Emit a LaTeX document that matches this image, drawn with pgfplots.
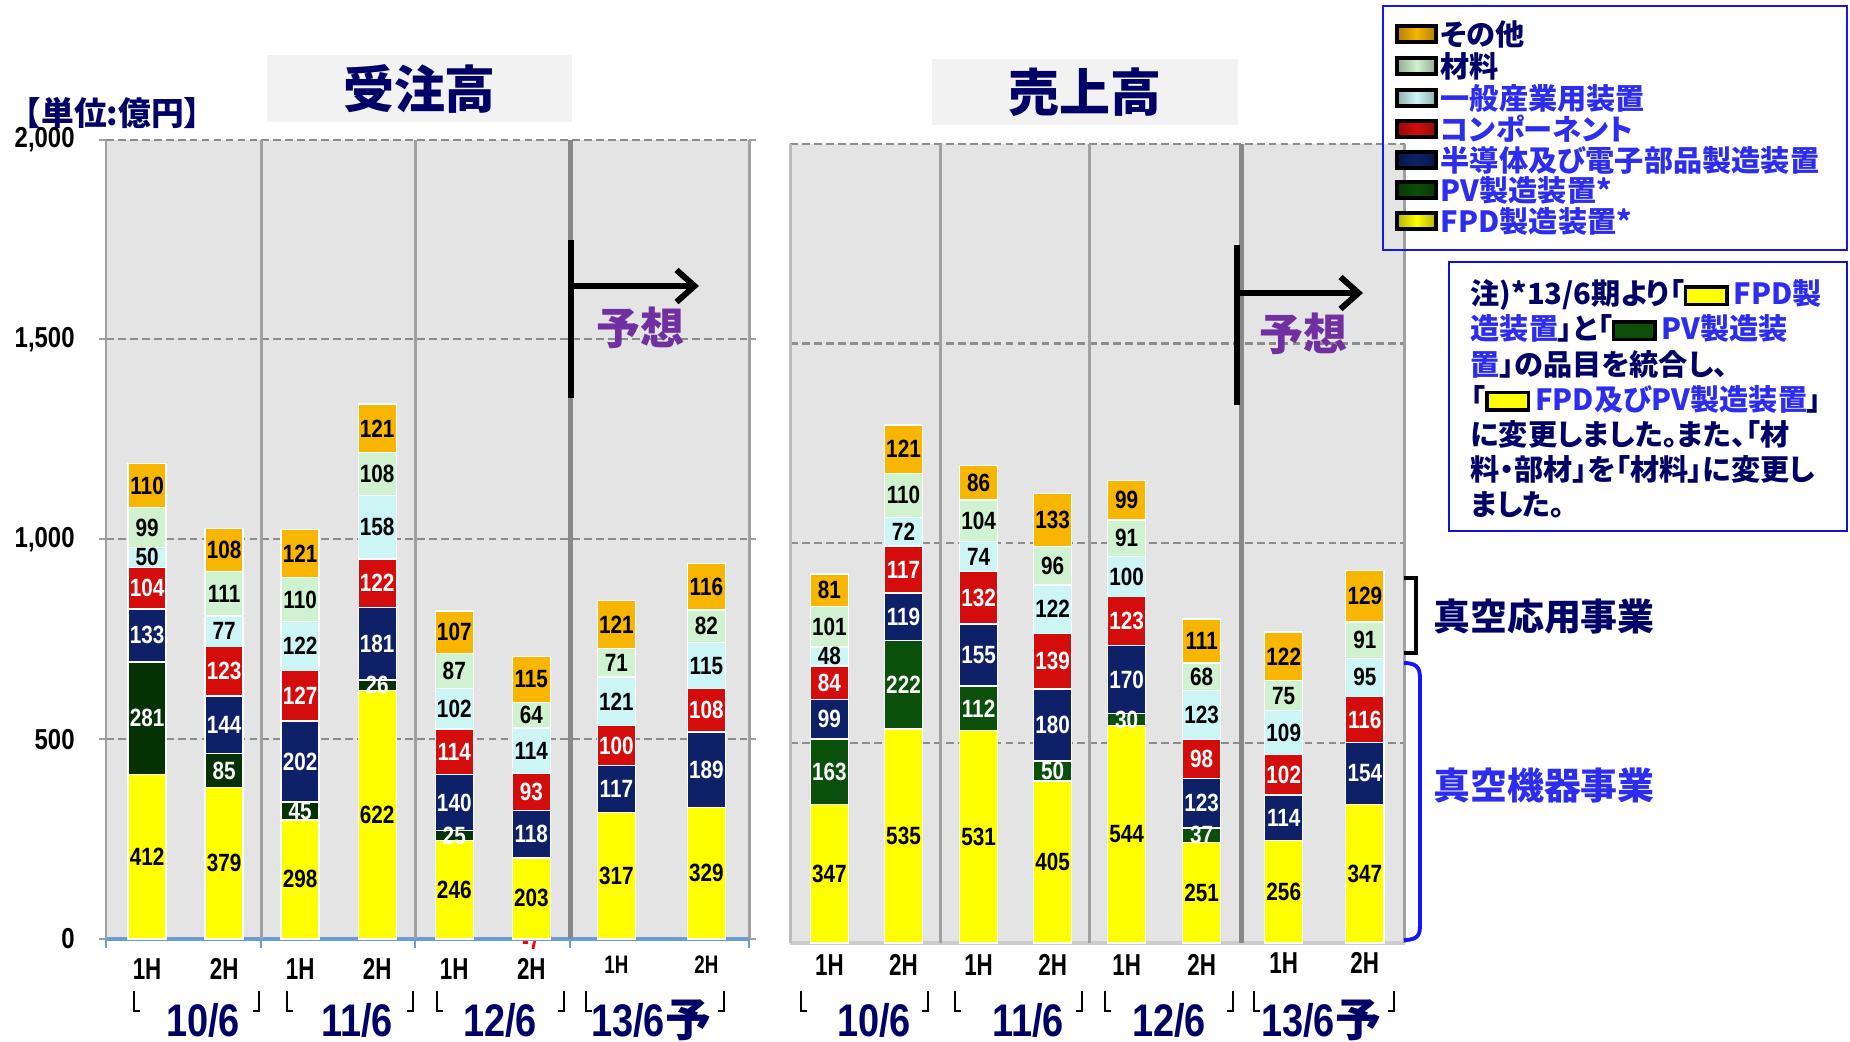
\documentclass[border=0pt]{standalone}
\usepackage{pgfplots}
\pgfplotsset{compat=1.18}
\usepackage{fontspec}
\usetikzlibrary{arrows.meta}
\setmainfont{Liberation Sans}
\newfontfamily\lab{Liberation Sans}[FakeStretch=0.83]
\newfontfamily\labc{Liberation Sans}[FakeStretch=0.74]
\newfontfamily\cjk{Noto Sans CJK JP}
\newfontfamily\cjkp{Noto Sans CJK JP}[RawFeature=+palt]

\definecolor{navy}{RGB}{0,0,102}
\definecolor{lblue}{RGB}{45,45,240}
\definecolor{brblue}{RGB}{20,20,255}
\definecolor{purp}{RGB}{112,48,160}
\definecolor{fpd}{RGB}{255,255,0}
\definecolor{pv}{RGB}{10,80,10}
\definecolor{pvd}{RGB}{5,50,5}
\definecolor{semi}{RGB}{14,32,104}
\definecolor{comp}{RGB}{212,12,12}
\definecolor{gen}{RGB}{204,246,246}
\definecolor{mat}{RGB}{208,242,208}
\definecolor{oth}{RGB}{248,182,0}
\definecolor{bg}{RGB}{228,228,228}
\definecolor{sep}{RGB}{160,160,160}
\definecolor{gridc}{RGB}{140,140,140}
\definecolor{axblue}{RGB}{110,155,213}
\definecolor{titlebg}{RGB}{242,242,242}

\pgfplotsset{
  hidezero/.code={%
    \pgfmathfloatifflags{\pgfplotspointmeta}{0}{\pgfkeys{/tikz/coordinate}}{}%
  },
}

\pgfplotsset{
  barbase/.style={
    x=0.1mm, y=0.03995mm, ymin=0, ymax=2000,
    ybar stacked, bar width=38, clip=false,
    axis line style={draw=none},
    axis background/.style={fill=bg},
    ymajorgrids, grid style={gridc, line width=0.6pt, dash pattern=on 2.2pt off 1.2pt},
    ytick={0,500,1000,1500,2000},
    xtick style={draw=none},
    xticklabel style={font=\labc\bfseries\fontsize{8.6}{9}\selectfont, anchor=center},
    /pgf/number format/assume math mode=true,
    /pgf/number format/1000 sep={,},
    nodes near coords={\pgfmathprintnumber{\pgfplotspointmeta}},
    every node near coord/.append style={/pgfplots/hidezero,
      anchor=center, inner sep=0pt,
      font=\lab\bfseries\fontsize{7.1}{7}\selectfont},
  },
  wl/.style={every node near coord/.append style={text=white}},
  sfpd/.style={draw=white, line width=0.4pt, fill=fpd},
  spv/.style={draw=white, line width=0.4pt, fill=pv, wl},
  ssemi/.style={draw=white, line width=0.4pt, fill=semi, wl},
  scomp/.style={draw=white, line width=0.4pt, fill=comp, wl},
  sgen/.style={draw=white, line width=0.4pt, fill=gen},
  smat/.style={draw=white, line width=0.4pt, fill=mat},
  soth/.style={draw=white, line width=0.4pt, fill=oth},
}

\newcommand\legitem[4]{%
  \draw[draw=black, line width=1.1pt, left color=#1!70!black, right color=#1!70!black, middle color=#1] (1397,#3-8) rectangle (1436,#3+8);
  \node[anchor=west, inner sep=0pt, text=#4, font=\cjkp\bfseries\fontsize{8.3}{9}\selectfont] at (1440,#3) {#2};}
\newcommand\sw[1]{\raisebox{0.02cm}{\setlength\fboxsep{0pt}\setlength\fboxrule{1pt}\fcolorbox{black}{#1}{\rule{0pt}{0.14cm}\rule{0.38cm}{0pt}}}}

\begin{document}
\begin{tikzpicture}[x=0.01cm, y=0.01cm]
\path[use as bounding box] (0,0) rectangle (1850,1041);

% ---------------- left: orders ----------------
\begin{axis}[barbase, at={(1.06cm,1.02cm)}, anchor=south west,
  xmin=106, xmax=749,
  xtick={147,224,300,377,454,531,616,706},
  xticklabels={1H,2H,1H,2H,1H,2H,{\fontsize{7.2}{7}\selectfont\raisebox{2.2pt}{1H}},{\fontsize{7.2}{7}\selectfont\raisebox{2.2pt}{2H}}},
  xticklabel style={yshift=-0.23cm},
  tick align=outside, major tick length=0.07cm,
  ytick style={draw=sep, line width=0.6pt},
  yticklabel style={font=\lab\bfseries\fontsize{8.2}{9}\selectfont, anchor=east, xshift=-0.12cm},
]
\draw[sep, line width=0.8pt] (106,0) -- (106,2000);
\draw[sep, line width=0.8pt] (261,0) -- (261,2000);
\draw[sep, line width=0.8pt] (415,0) -- (415,2000);
\draw[sep!85!black, line width=1.3pt] (570,0) -- (570,2000);
\draw[sep, line width=0.8pt] (749,0) -- (749,2000);

\addplot[sfpd] coordinates {(147,412) (224,379) (300,298) (377,622) (454,246) (531,203) (616,317) (706,329)};
\addplot[spv, fill=pvd] coordinates {(147,281) (224,85) (300,45) (377,26) (454,25) (531,0) (616,0) (706,0)};
\addplot[ssemi] coordinates {(147,133) (224,144) (300,202) (377,181) (454,140) (531,118) (616,117) (706,189)};
\addplot[scomp] coordinates {(147,104) (224,123) (300,127) (377,122) (454,114) (531,93) (616,100) (706,108)};
\addplot[sgen] coordinates {(147,50) (224,77) (300,122) (377,158) (454,102) (531,114) (616,121) (706,115)};
\addplot[smat] coordinates {(147,99) (224,111) (300,110) (377,108) (454,87) (531,64) (616,71) (706,82)};
\addplot[soth] coordinates {(147,110) (224,108) (300,121) (377,121) (454,107) (531,115) (616,121) (706,116)};

\draw[axblue, line width=1.3pt] (106,0) -- (749,0);
\draw[axblue, line width=0.6pt] (106,0) -- (106,-22);
\draw[axblue, line width=0.6pt] (261,0) -- (261,-22);
\draw[axblue, line width=0.6pt] (415,0) -- (415,-22);
\draw[axblue, line width=0.6pt] (570,0) -- (570,-22);
\draw[axblue, line width=0.6pt] (749,0) -- (749,-22);
\node[text=red, inner sep=0pt, font=\lab\bfseries\fontsize{7.1}{7}\selectfont] at (531,-4) {-7};
\end{axis}

% ---------------- right: sales ----------------
\begin{axis}[barbase, at={(7.90cm,0.98cm)}, anchor=south west,
  xmin=790, xmax=1404,
  xtick={829,903,978,1052,1126,1201,1283,1364},
  xticklabels={1H,2H,1H,2H,1H,2H,\raisebox{1pt}{1H},\raisebox{1pt}{2H}},
  xticklabel style={yshift=-0.22cm},
  yticklabels={}, ytick style={draw=none},
]
\draw[sep!70, line width=0.8pt] (790,0) -- (790,2000);
\draw[sep, line width=0.8pt] (940,0) -- (940,2000);
\draw[sep, line width=0.8pt] (1089,0) -- (1089,2000);
\draw[sep!85!black, line width=1.3pt] (1241,0) -- (1241,2000);
\draw[sep, line width=0.8pt] (1404,0) -- (1404,2000);

\addplot[sfpd] coordinates {(829,347) (903,535) (978,531) (1052,405) (1126,544) (1201,251) (1283,256) (1364,347)};
\addplot[spv] coordinates {(829,163) (903,222) (978,112) (1052,50) (1126,30) (1201,37) (1283,0) (1364,0)};
\addplot[ssemi] coordinates {(829,99) (903,119) (978,155) (1052,180) (1126,170) (1201,123) (1283,114) (1364,154)};
\addplot[scomp] coordinates {(829,84) (903,117) (978,132) (1052,139) (1126,123) (1201,98) (1283,102) (1364,116)};
\addplot[sgen] coordinates {(829,48) (903,72) (978,74) (1052,122) (1126,100) (1201,123) (1283,109) (1364,95)};
\addplot[smat] coordinates {(829,101) (903,110) (978,104) (1052,96) (1126,91) (1201,68) (1283,75) (1364,91)};
\addplot[soth] coordinates {(829,81) (903,121) (978,86) (1052,133) (1126,99) (1201,111) (1283,122) (1364,129)};

\draw[black!20, line width=1.2pt] (790,0) -- (1404,0);
\end{axis}

% ---------------- titles ----------------
\fill[titlebg] (267,919) rectangle (572,986);
\node[text=navy, font=\cjk\bfseries\fontsize{14.5}{15}\selectfont] at (419.5,952) {受注高};
\fill[titlebg] (932,916) rectangle (1238,982);
\node[text=navy, font=\cjk\bfseries\fontsize{14.5}{15}\selectfont] at (1085,949) {売上高};
\node[anchor=west, inner sep=0pt, text=navy, font=\cjk\bfseries\fontsize{9.3}{10}\selectfont] at (8,928) {【単位:億円】};

% ---------------- forecast arrows ----------------
\draw[line width=1.7pt] (571,801) -- (571,643);
\draw[line width=1.7pt, -{Straight Barb[length=1.8mm,width=3.2mm]}] (571,755) -- (699,755);
\node[text=purp, font=\cjk\bfseries\fontsize{12.5}{13}\selectfont] at (640,713) {予想};
\draw[line width=1.7pt] (1237,796) -- (1237,636);
\draw[line width=1.7pt, -{Straight Barb[length=1.8mm,width=3.2mm]}] (1237,748) -- (1363,748);
\node[text=purp, font=\cjk\bfseries\fontsize{12.5}{13}\selectfont] at (1303,707) {予想};

% ---------------- group labels ----------------
\foreach \xa/\xb in {134/259, 287/413, 437/564, 586/724, 801/928, 955/1082, 1105/1233, 1254/1394} {
  \draw[line width=0.7pt] (\xa,50) -- (\xa,30) -- (\xa+6,30);
  \draw[line width=0.7pt] (\xb,50) -- (\xb,30) -- (\xb-6,30);
}
\node[text=navy, font=\lab\bfseries\fontsize{13}{14}\selectfont] at (203,21) {10/6};
\node[text=navy, font=\lab\bfseries\fontsize{13}{14}\selectfont] at (357,21) {11/6};
\node[text=navy, font=\lab\bfseries\fontsize{13}{14}\selectfont] at (500,21) {12/6};
\node[text=navy, font=\lab\bfseries\fontsize{13}{14}\selectfont] at (874,21) {10/6};
\node[text=navy, font=\lab\bfseries\fontsize{13}{14}\selectfont] at (1028,21) {11/6};
\node[text=navy, font=\lab\bfseries\fontsize{13}{14}\selectfont] at (1169,21) {12/6};
\node[text=navy, font=\lab\bfseries\fontsize{13}{14}\selectfont] at (651,21) {13/6{\cjk 予}};
\node[text=navy, font=\lab\bfseries\fontsize{13}{14}\selectfont] at (1321,21) {13/6{\cjk 予}};

% ---------------- legend ----------------
\draw[brblue, line width=0.8pt] (1383,1035) rectangle (1847,791);
\legitem{oth}{その他}{1007}{navy}
\legitem{mat}{材料}{975}{navy}
\legitem{gen}{一般産業用装置}{943}{lblue}
\legitem{comp}{コンポーネント}{912}{lblue}
\legitem{semi}{半導体及び電子部品製造装置}{881}{lblue}
\legitem{pv}{PV製造装置*}{851}{lblue}
\legitem{fpd}{FPD製造装置*}{820}{lblue}

% ---------------- note ----------------
\draw[brblue!85!black, line width=0.5pt] (1449,779) rectangle (1847,510);
\node[anchor=north west, align=left, inner sep=0pt, text=navy,
  font=\cjkp\bfseries\fontsize{8.3}{10}\selectfont] at (1470,762) {%
注)*13/6期より「\sw{fpd}\,\textcolor{lblue}{FPD製}\\
\textcolor{lblue}{造装置}」と「\sw{pv}\,\textcolor{lblue}{PV製造装}\\
\textcolor{lblue}{置}」の品目を統合し、\\
「\sw{fpd}\,\textcolor{lblue}{FPD及びPV製造装置}」\\
に変更しました。また、「材\\
料・部材」を「材料」に変更し\\
ました。};

% ---------------- business brackets ----------------
\draw[black, line width=0.9pt] (1404,463) -- (1416,463) -- (1416,388) -- (1404,388);
\node[text=navy, font=\cjk\bfseries\fontsize{10.5}{11}\selectfont] at (1544,424) {真空応用事業};
\draw[brblue, line width=1.1pt] (1404,378) .. controls (1420,378) and (1420,370) .. (1420,360)
  -- (1420,118) .. controls (1420,108) and (1420,101) .. (1404,101);
\node[text=lblue, font=\cjk\bfseries\fontsize{10.5}{11}\selectfont] at (1544,256) {真空機器事業};
\end{tikzpicture}
\end{document}
